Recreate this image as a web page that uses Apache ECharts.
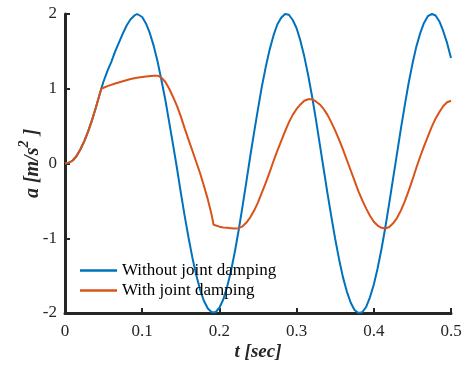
<!DOCTYPE html>
<html>
<head>
<meta charset="utf-8">
<script src="https://cdn.jsdelivr.net/npm/echarts@6/dist/echarts.min.js"></script>
<style>html,body{margin:0;padding:0;background:#fff}#c{width:464px;height:371px}</style>
</head>
<body>
<div id="c"></div>
<script>
var seriesNames = ['Without joint damping', 'With joint damping'];
var xTicks = [0, 0.1, 0.2, 0.3, 0.4, 0.5];
var yTicks = [-2, -1, 0, 1, 2];

var tBlue = [0,0.005,0.01,0.015,0.02,0.025,0.03,0.035,0.04,0.045,0.047,0.05,0.055,0.06,0.065,0.07,0.075,0.08,0.085,0.09,0.0935,0.095,0.1,0.105,0.11,0.115,0.12,0.125,0.13,0.135,0.14,0.145,0.15,0.155,0.16,0.165,0.17,0.175,0.18,0.185,0.19,0.1925,0.195,0.2,0.205,0.21,0.215,0.22,0.225,0.23,0.235,0.24,0.245,0.25,0.255,0.26,0.265,0.27,0.275,0.28,0.285,0.2866,0.29,0.295,0.3,0.305,0.31,0.315,0.32,0.325,0.33,0.335,0.34,0.345,0.35,0.355,0.36,0.365,0.37,0.375,0.38,0.3814,0.385,0.39,0.395,0.4,0.405,0.41,0.415,0.42,0.425,0.43,0.435,0.44,0.445,0.45,0.455,0.46,0.465,0.47,0.4754,0.48,0.485,0.49,0.495,0.5];
var aBlue = [0,0.01,0.04,0.10,0.19,0.30,0.43,0.58,0.75,0.93,1.00,1.10,1.24,1.36,1.50,1.62,1.74,1.85,1.93,1.98,2.00,2.00,1.96,1.87,1.74,1.57,1.36,1.11,0.85,0.55,0.25,-0.06,-0.39,-0.70,-0.99,-1.26,-1.49,-1.69,-1.84,-1.94,-1.99,-2.00,-1.99,-1.93,-1.82,-1.65,-1.44,-1.18,-0.89,-0.57,-0.24,0.10,0.42,0.73,1.03,1.29,1.52,1.71,1.86,1.95,2.00,2.00,1.99,1.92,1.81,1.64,1.43,1.18,0.90,0.59,0.26,-0.07,-0.40,-0.71,-1.01,-1.28,-1.52,-1.71,-1.86,-1.96,-2.00,-2.00,-1.99,-1.92,-1.79,-1.62,-1.40,-1.14,-0.85,-0.53,-0.20,0.13,0.46,0.77,1.07,1.33,1.56,1.74,1.88,1.97,2.00,1.98,1.90,1.77,1.61,1.41];

var tOrange = [0,0.005,0.01,0.015,0.02,0.025,0.03,0.035,0.04,0.045,0.047,0.055,0.065,0.075,0.085,0.095,0.105,0.115,0.12,0.125,0.13,0.135,0.14,0.145,0.15,0.155,0.16,0.165,0.17,0.175,0.18,0.185,0.19,0.1925,0.2,0.205,0.21,0.215,0.22,0.225,0.23,0.235,0.24,0.245,0.25,0.255,0.26,0.265,0.27,0.275,0.28,0.285,0.29,0.295,0.3,0.305,0.31,0.315,0.32,0.325,0.33,0.335,0.34,0.345,0.35,0.355,0.36,0.365,0.37,0.375,0.38,0.385,0.39,0.395,0.4,0.405,0.41,0.415,0.42,0.425,0.43,0.435,0.44,0.445,0.45,0.455,0.46,0.465,0.47,0.475,0.48,0.485,0.49,0.495,0.5];
var aOrange = [0,0.01,0.04,0.10,0.19,0.30,0.43,0.58,0.75,0.93,1.00,1.035,1.07,1.10,1.13,1.15,1.165,1.175,1.175,1.15,1.09,1.00,0.89,0.77,0.63,0.47,0.32,0.17,0.02,-0.13,-0.30,-0.48,-0.69,-0.82,-0.845,-0.855,-0.86,-0.865,-0.87,-0.865,-0.84,-0.79,-0.72,-0.63,-0.52,-0.39,-0.26,-0.12,0.03,0.17,0.30,0.43,0.55,0.65,0.73,0.79,0.84,0.86,0.86,0.83,0.79,0.73,0.65,0.55,0.44,0.32,0.19,0.05,-0.09,-0.23,-0.37,-0.49,-0.60,-0.70,-0.78,-0.83,-0.86,-0.87,-0.85,-0.80,-0.73,-0.63,-0.51,-0.37,-0.22,-0.06,0.09,0.23,0.36,0.49,0.60,0.69,0.77,0.82,0.84];

function pairs(t, a) { return t.map(function (v, i) { return [v, a[i]]; }); }

var FONT = '"Liberation Serif", "Times New Roman", serif';
var AX = '#262626';

var chart = echarts.init(document.getElementById('c'), null, { renderer: 'canvas' });
chart.setOption({
  animation: false,
  backgroundColor: '#fff',
  grid: { left: 65, right: 13, top: 14, bottom: 58, containLabel: false, outerBoundsMode: 'none' },
  legend: {
    orient: 'vertical',
    left: 75, top: 257,
    data: seriesNames,
    icon: 'rect',
    itemWidth: 37, itemHeight: 2.5,
    itemGap: 3,
    textStyle: { fontFamily: FONT, fontSize: 17, color: '#000', lineHeight: 17 }
  },
  xAxis: {
    type: 'value', min: xTicks[0], max: xTicks[xTicks.length - 1], interval: 0.1,
    name: 't [sec]', nameLocation: 'middle', nameGap: 30, nameMoveOverlap: false,
    nameTextStyle: { fontFamily: FONT, fontSize: 19, fontWeight: 'bold', fontStyle: 'italic', color: AX },
    axisLine: { onZero: false, lineStyle: { color: AX, width: 3 } },
    axisTick: { inside: true, length: 5, lineStyle: { color: AX, width: 2 } },
    axisLabel: { fontFamily: FONT, fontSize: 17, color: AX, margin: 10,
      formatter: function (v) { return String(Math.round(v * 10) / 10); } },
    splitLine: { show: false }
  },
  yAxis: {
    type: 'value', min: yTicks[0], max: yTicks[yTicks.length - 1], interval: 1,
    name: '{b|a [m/s}{s|2}{b| ]}', nameLocation: 'middle', nameGap: 22, nameMoveOverlap: false,
    nameTextStyle: {
      color: AX,
      rich: {
        b: { fontFamily: FONT, fontSize: 20, fontWeight: 'bold', fontStyle: 'italic', color: AX, lineHeight: 26, verticalAlign: 'bottom' },
        s: { fontFamily: FONT, fontSize: 14, fontWeight: 'bold', fontStyle: 'italic', color: AX, lineHeight: 16, verticalAlign: 'top' }
      }
    },
    axisLine: { onZero: false, lineStyle: { color: AX, width: 3 } },
    axisTick: { inside: true, length: 5, lineStyle: { color: AX, width: 2 } },
    axisLabel: { fontFamily: FONT, fontSize: 17, color: AX, margin: 8 },
    splitLine: { show: false }
  },
  series: [
    { name: seriesNames[0], type: 'line', data: pairs(tBlue, aBlue), showSymbol: false, clip: false,
      lineStyle: { color: '#0072BD', width: 2 }, itemStyle: { color: '#0072BD' } },
    { name: seriesNames[1], type: 'line', data: pairs(tOrange, aOrange), showSymbol: false, clip: false,
      lineStyle: { color: '#D95319', width: 2 }, itemStyle: { color: '#D95319' } }
  ]
});
</script>
</body>
</html>
